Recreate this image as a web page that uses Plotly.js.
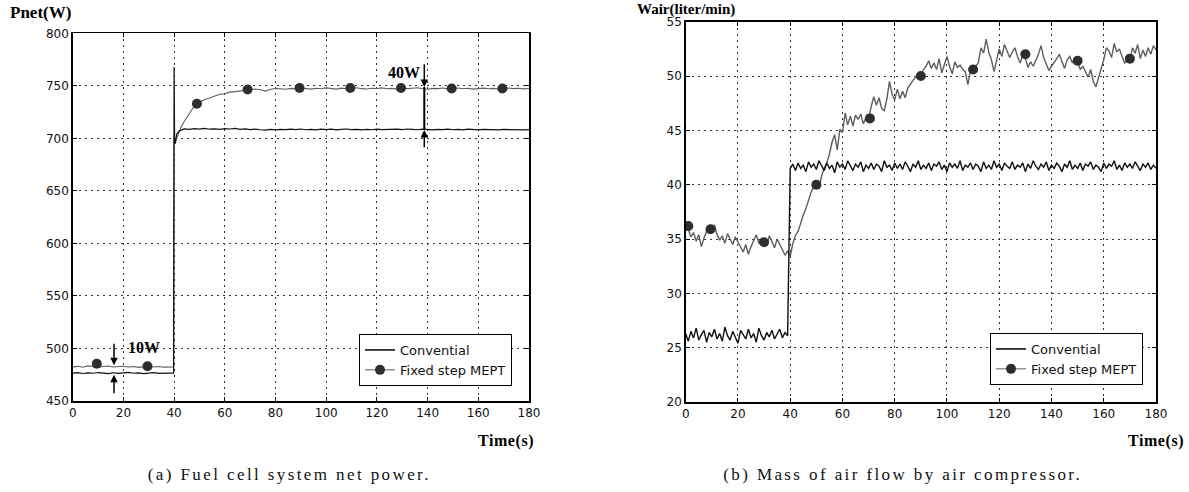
<!DOCTYPE html>
<html>
<head>
<meta charset="utf-8">
<script src="https://cdn.plot.ly/plotly-3.0.1.min.js"></script>
<style>html,body{margin:0;padding:0;background:#fff;}#chart{width:1189px;height:492px;}</style>
</head>
<body>
<div id="chart"></div>
<script>
// ---------- helpers for sampling grids ----------
function seq(a, b, step) { var r = []; for (var v = a; v <= b + 1e-9; v += step) r.push(Math.round(v * 10) / 10); return r; }

// ---------- (a) Fuel cell system net power ----------
var leftConvTime = seq(0, 38, 2).concat([39.8, 40, 40.2, 40.5, 41, 42]).concat(seq(44, 180, 2));
var leftConvPower = [
  476.5, 477.0, 476.2, 476.8, 476.4, 477.1, 476.6, 476.0, 476.9, 476.3,
  476.7, 477.2, 476.4, 476.8, 476.1, 476.6, 477.0, 476.3, 476.7, 476.5,
  476.5, 768, 700, 695, 704, 707,
  709.0, 708.5, 709.2, 708.8, 709.5, 708.7, 709.1, 708.6, 709.3, 708.9,
  709.4, 708.6, 709.0, 708.4, 708.8, 708.2, 707.9, 708.5, 708.1, 708.6,
  708.3, 708.8, 708.4, 708.9, 708.2, 708.6, 708.0, 708.7, 708.3, 708.8,
  708.1, 708.5, 708.9, 708.3, 708.6, 708.0, 708.5, 708.2, 708.8, 708.4,
  708.6, 708.1, 708.7, 708.3, 708.9, 708.5, 708.2, 708.7, 708.4, 708.0,
  708.6, 708.3, 708.8, 708.2, 708.5, 708.1, 708.7, 708.4, 708.0, 708.6,
  708.3, 708.7, 708.1, 708.5, 708.2, 708.6, 708.3, 708.0, 708.4
];
var leftMeptTime = seq(0, 38, 2).concat([39.8, 40, 40.5, 41, 42, 43, 44, 45, 46, 47, 48, 49, 50]).concat(seq(52, 180, 2));
var leftMeptPower = [
  482.5, 483.0, 482.2, 483.4, 482.8, 482.1, 482.9, 483.3, 482.4, 482.7,
  483.1, 482.3, 482.8, 482.0, 482.6, 483.2, 482.4, 482.9, 482.2, 482.7,
  482.5, 703, 697, 700, 706, 712, 716, 720, 724, 728, 731, 733, 734.5,
  737.0, 738.5, 740.5, 742.0, 742.5, 744.0, 744.5, 745.0, 746.0, 746.5,
  747.0, 746.2, 745.0, 746.8, 747.5,
  747.2, 746.8, 747.6, 747.1, 747.9, 747.3, 746.9, 747.7, 747.2, 748.0,
  747.4, 746.9, 747.8, 747.2, 747.6, 748.1, 747.3, 747.0, 747.7, 747.4,
  748.0, 747.2, 747.6, 746.9, 747.8, 747.3, 747.7, 748.1, 747.2, 746.8,
  747.6, 747.3, 747.9, 747.1, 747.5, 748.0, 747.2, 747.7, 746.9, 747.4,
  747.8, 747.2, 747.6, 747.0, 747.5, 747.9, 747.3, 747.7, 747.1, 747.4
];
var leftMarkerTime = [9.5, 29.5, 49, 69, 89.5, 109.5, 129.5, 149.5, 169.5];
var leftMarkerPower = [485.5, 483, 733, 746.5, 748, 748, 748, 747.5, 747.5];
var leftXTicks = [0, 20, 40, 60, 80, 100, 120, 140, 160, 180];
var leftYTicks = [450, 500, 550, 600, 650, 700, 750, 800];

// ---------- (b) Mass of air flow by air compressor ----------
var rightTime = seq(0, 180, 1);
var rightConvFlow = [
  26.3, 25.6, 26.5, 25.9, 26.8, 25.7, 26.2, 26.6, 25.5, 26.4,
  26.0, 26.7, 25.8, 26.3, 25.6, 26.9, 26.1, 25.7, 26.5, 26.0,
  25.4, 26.6, 26.2, 25.8, 26.7, 25.9, 26.3, 25.5, 26.8, 26.1,
  25.7, 26.4, 26.0, 26.6, 25.8, 26.2, 26.7, 25.9, 26.4, 26.1,
  41.5, 41.9, 41.3, 42.0, 41.5, 41.8, 41.2, 42.1, 41.6, 41.9,
  41.4, 42.2, 41.7, 41.3, 42.0, 41.5, 41.8, 41.1, 42.1, 41.6,
  41.9, 41.4, 42.2, 41.7, 41.3, 41.9, 41.6, 42.1, 41.2, 41.8,
  41.5, 42.0, 41.4, 41.9, 41.7, 41.2, 42.2, 41.6, 41.8, 41.3,
  42.0, 41.5, 41.9, 41.4, 42.1, 41.7, 41.2, 41.9, 41.6, 42.2,
  41.4, 41.8, 41.5, 42.0, 41.3, 41.9, 41.7, 42.1, 41.4, 41.8,
  41.2, 42.0, 41.6, 41.9, 41.5, 42.2, 41.3, 41.8, 41.6, 42.0,
  41.4, 41.9, 41.7, 41.2, 42.1, 41.5, 41.8, 41.4, 42.2, 41.6,
  41.9, 41.3, 42.0, 41.7, 41.5, 42.1, 41.4, 41.8, 41.6, 42.0,
  41.2, 41.9, 41.5, 42.2, 41.7, 41.4, 41.9, 41.6, 42.1, 41.3,
  41.8, 41.5, 42.0, 41.7, 41.2, 41.9, 41.6, 42.2, 41.4, 41.8,
  41.5, 42.0, 41.3, 41.9, 41.7, 42.1, 41.4, 41.8, 41.6, 41.2,
  42.0, 41.5, 41.9, 41.7, 42.2, 41.4, 41.8, 41.3, 42.0, 41.6,
  41.9, 41.5, 42.1, 41.7, 41.3, 41.9, 41.6, 42.0, 41.4, 41.8,
  41.5
];
var rightMeptFlow = [
  36.5, 35.8, 35.2, 35.6, 34.8, 35.4, 34.3, 35.1, 35.7, 36.0,
  35.8, 36.3, 35.4, 34.9, 35.3, 34.6, 35.5, 35.0, 34.5, 35.2,
  34.7, 34.2, 33.8, 34.5, 33.6, 34.3, 34.8, 35.4, 34.6, 35.1,
  34.7, 34.4, 35.3, 34.8, 34.2, 35.0, 34.5, 33.9, 33.5, 33.9,
  33.4, 34.6, 35.3, 35.7, 36.5, 37.2, 37.8, 38.6, 39.3, 39.8,
  40.1, 39.6, 40.8, 41.5, 42.0, 42.8, 43.9, 44.6, 43.2, 45.1,
  44.8, 46.6, 45.5, 46.3, 45.4, 46.4, 46.0, 46.5, 45.6, 46.2,
  46.0, 47.2, 48.1, 47.3, 48.0, 47.0, 46.8, 47.9, 49.5, 48.3,
  47.8, 48.8, 47.9, 48.6, 48.0, 48.9, 49.3, 49.6, 49.9, 50.2,
  50.1, 50.6, 50.9, 51.4, 50.7, 51.2, 50.6, 51.6, 50.3, 51.0,
  51.8, 50.9, 50.2, 51.3, 50.8, 51.0, 50.6, 50.4, 49.2, 50.5,
  50.7, 50.9, 51.2, 52.6, 52.1, 53.4, 52.2, 51.5, 50.4, 51.6,
  52.5, 51.8, 52.9, 52.3, 51.7, 52.2, 52.6, 51.8, 51.2, 51.9,
  51.6, 50.8, 51.3, 50.9, 51.5, 52.0, 52.8, 51.7, 51.1, 50.5,
  50.9, 51.2, 51.6, 52.0, 51.4, 50.7, 51.5, 51.8, 51.2, 51.6,
  51.3, 50.6, 50.9, 50.4, 49.9, 50.6, 49.5, 49.0, 49.8, 50.6,
  51.5, 52.6, 52.3, 51.7, 53.0, 52.2, 52.5, 51.8, 51.2, 51.5,
  51.4, 52.6, 52.1, 52.9, 51.6, 52.4, 51.8, 52.6, 52.0, 52.8,
  52.4
];
var rightMarkerTime = [1, 9.5, 30, 50, 70.5, 90, 110, 130, 150, 170];
var rightMarkerFlow = [36.2, 35.9, 34.7, 40.0, 46.1, 50.0, 50.6, 52.0, 51.4, 51.6];
var rightXTicks = [0, 20, 40, 60, 80, 100, 120, 140, 160, 180];
var rightYTicks = [20, 25, 30, 35, 40, 45, 50, 55];

var seriesNames = ['Convential', 'Fixed step MEPT'];

// ---------- styles ----------
var convColor = '#111111';
var meptColor = '#5e5e5e';
var markerColor = '#2e2e2e';
var tickFont = {family: 'DejaVu Sans, Arial, sans-serif', size: 12, color: '#111'};
var legendFont = {family: 'DejaVu Sans, Arial, sans-serif', size: 13, color: '#111'};
var boldSerif = {family: 'Liberation Serif, Times New Roman, serif', size: 16, color: '#000', weight: 'bold'};
var bigBoldSerif = {family: 'Liberation Serif, Times New Roman, serif', size: 17, color: '#000', weight: 'bold'};
var topTitleFont = {family: 'Liberation Serif, Times New Roman, serif', size: 15, color: '#000', weight: 'bold'};
var captionFont = {family: 'Liberation Serif, Times New Roman, serif', size: 17, color: '#111'};

function lineTrace(x, y, color, width, ax, ay) {
  return {x: x, y: y, type: 'scatter', mode: 'lines', line: {color: color, width: width}, xaxis: ax, yaxis: ay, showlegend: false, hoverinfo: 'skip'};
}
function markerTrace(x, y, ax, ay) {
  return {x: x, y: y, type: 'scatter', mode: 'markers', marker: {color: markerColor, size: 10, line: {width: 0}}, xaxis: ax, yaxis: ay, showlegend: false, hoverinfo: 'skip'};
}
function legendTrace(name, withMarker, color, width, ax, ay, leg) {
  return {x: [null], y: [null], type: 'scatter', mode: withMarker ? 'lines+markers' : 'lines', name: name,
    line: {color: color, width: width}, marker: {color: markerColor, size: 10}, xaxis: ax, yaxis: ay, legend: leg, showlegend: true};
}

var data = [
  lineTrace(leftMeptTime, leftMeptPower, meptColor, 1.1, 'x', 'y'),
  lineTrace(leftConvTime, leftConvPower, convColor, 1.2, 'x', 'y'),
  markerTrace(leftMarkerTime, leftMarkerPower, 'x', 'y'),
  lineTrace(rightTime, rightMeptFlow, meptColor, 1.4, 'x2', 'y2'),
  lineTrace(rightTime, rightConvFlow, convColor, 1.4, 'x2', 'y2'),
  markerTrace(rightMarkerTime, rightMarkerFlow, 'x2', 'y2'),
  legendTrace(seriesNames[0], false, '#000', 1.5, 'x', 'y', 'legend'),
  legendTrace(seriesNames[1], true, meptColor, 1, 'x', 'y', 'legend'),
  legendTrace(seriesNames[0], false, '#000', 1.5, 'x2', 'y2', 'legend2'),
  legendTrace(seriesNames[1], true, meptColor, 1, 'x2', 'y2', 'legend2')
];

function axis(domain, range, ticks, anchor) {
  return {
    domain: domain, range: range, tickvals: ticks, ticktext: ticks.map(String), anchor: anchor,
    showline: true, linecolor: '#000', linewidth: 1.5, mirror: 'ticks',
    ticks: 'inside', ticklen: 4, tickcolor: '#000', tickfont: tickFont,
    showgrid: true, gridcolor: '#333', gridwidth: 1, griddash: '2px,4px',
    zeroline: false, fixedrange: true
  };
}

var W = 1189, H = 492;
function px(v) { return v / W; }
function py(v) { return 1 - v / H; }

var layout = {
  width: W, height: H,
  margin: {l: 0, r: 0, t: 0, b: 0},
  paper_bgcolor: '#fff', plot_bgcolor: '#fff',
  showlegend: true,
  xaxis: axis([px(72.7), px(529)], [0, 180], leftXTicks, 'y'),
  yaxis: axis([py(401), py(33.3)], [450, 800], leftYTicks, 'x'),
  xaxis2: axis([px(685.7), px(1156)], [0, 180], rightXTicks, 'y2'),
  yaxis2: axis([py(402), py(21.7)], [20, 55], rightYTicks, 'x2'),
  legend: {x: px(512), xanchor: 'right', y: py(386), yanchor: 'bottom', xref: 'paper', yref: 'paper',
    bordercolor: '#000', borderwidth: 1, bgcolor: '#fff', font: legendFont, tracegroupgap: 0, itemwidth: 30},
  legend2: {x: px(1143), xanchor: 'right', y: py(385), yanchor: 'bottom', xref: 'paper', yref: 'paper',
    bordercolor: '#000', borderwidth: 1, bgcolor: '#fff', font: legendFont, tracegroupgap: 0, itemwidth: 30},
  shapes: [
    {type: 'line', xref: 'x', yref: 'y', x0: 138.7, x1: 138.7, y0: 749, y1: 708, line: {color: '#000', width: 2}}
  ],
  annotations: [
    {xref: 'paper', yref: 'paper', x: px(8), y: py(12), xanchor: 'left', yanchor: 'middle', text: 'Pnet(W)', showarrow: false, font: bigBoldSerif},
    {xref: 'paper', yref: 'paper', x: px(686), y: 1, xanchor: 'center', yanchor: 'top', borderpad: 0, text: 'Wair(liter/min)', showarrow: false, font: topTitleFont},
    {xref: 'paper', yref: 'paper', x: px(534), y: py(441), xanchor: 'right', yanchor: 'middle', text: 'Time(s)', showarrow: false, font: boldSerif},
    {xref: 'paper', yref: 'paper', x: px(1184), y: py(441), xanchor: 'right', yanchor: 'middle', text: 'Time(s)', showarrow: false, font: boldSerif},
    {xref: 'paper', yref: 'paper', x: px(289), y: py(474), xanchor: 'center', yanchor: 'middle', text: '(a) Fuel cell system net power.', showarrow: false, font: captionFont},
    {xref: 'paper', yref: 'paper', x: px(902), y: py(474), xanchor: 'center', yanchor: 'middle', text: '(b) Mass of air flow by air compressor.', showarrow: false, font: captionFont},
    // 10W marker
    {xref: 'x', yref: 'y', x: 28, y: 501, text: '10W', showarrow: false, font: boldSerif},
    {xref: 'x', yref: 'y', axref: 'x', ayref: 'y', x: 16.3, y: 484, ax: 16.3, ay: 506, text: '', showarrow: true, arrowhead: 2, arrowsize: 1, arrowwidth: 1.5, arrowcolor: '#000'},
    {xref: 'x', yref: 'y', axref: 'x', ayref: 'y', x: 16.3, y: 475, ax: 16.3, ay: 456, text: '', showarrow: true, arrowhead: 2, arrowsize: 1, arrowwidth: 1.5, arrowcolor: '#000'},
    // 40W marker
    {xref: 'x', yref: 'y', x: 130.5, y: 763, text: '40W', showarrow: false, font: boldSerif},
    {xref: 'x', yref: 'y', axref: 'x', ayref: 'y', x: 138.7, y: 749, ax: 138.7, ay: 772, text: '', showarrow: true, arrowhead: 2, arrowsize: 1, arrowwidth: 1.5, arrowcolor: '#000'},
    {xref: 'x', yref: 'y', axref: 'x', ayref: 'y', x: 138.7, y: 708, ax: 138.7, ay: 690, text: '', showarrow: true, arrowhead: 2, arrowsize: 1, arrowwidth: 1.5, arrowcolor: '#000'}
  ]
};

Plotly.newPlot('chart', data, layout, {displayModeBar: false, staticPlot: true}).then(function () {
  // the printed captions are widely letter-spaced
  var texts = document.querySelectorAll('#chart .annotation-text');
  texts.forEach(function (t) {
    var s = t.textContent;
    if (s.indexOf('(a)') === 0 || s.indexOf('(b)') === 0) t.style.letterSpacing = '2.4px';
    if (s === 'Time(s)') t.style.letterSpacing = '0.6px';
  });
});
</script>
</body>
</html>
